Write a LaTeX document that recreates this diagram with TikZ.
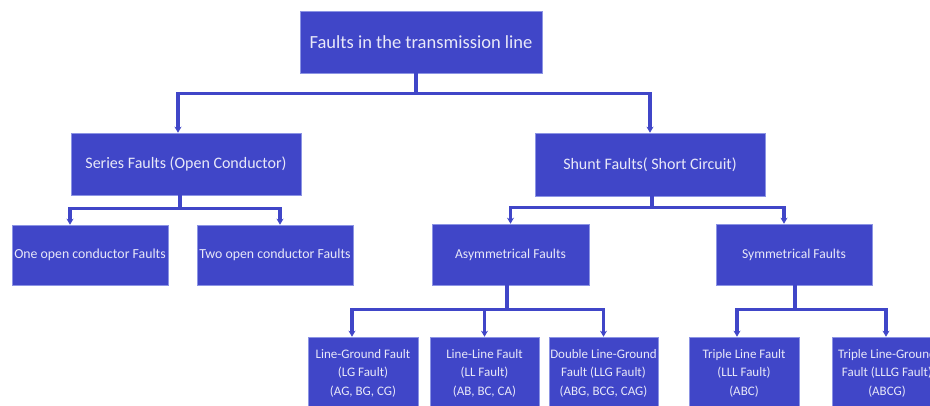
\documentclass[tikz,border=0pt]{standalone}
\usepackage{fontspec}
\setmainfont{Carlito}
\usetikzlibrary{arrows.meta}
\definecolor{faultblue}{RGB}{64,70,200}
\definecolor{faultedge}{RGB}{140,148,228}
\definecolor{faulttext}{RGB}{232,232,248}

\begin{document}
\begin{tikzpicture}[x=1pt, y=-1pt,
    box/.style={draw=faultedge, line width=0.6pt, fill=faultblue, text=faulttext,
      inner sep=0pt, align=center},
    link/.style={draw=faultblue, line width=3.2pt,
      -{Stealth[length=6pt,width=7pt]}}]
    \useasboundingbox (0,0) rectangle (930,405);

    % nodes
    \node[box, minimum width=242pt, minimum height=62pt, font=\fontsize{18.5}{22}\selectfont]
      (root) at (421,42) {Faults in the transmission line};
    \node[box, minimum width=230pt, minimum height=62pt, font=\fontsize{16}{19}\selectfont]
      (series) at (186,164) {Series Faults (Open Conductor)};
    \node[box, minimum width=230pt, minimum height=63pt, font=\fontsize{16}{19}\selectfont]
      (shunt) at (650,164.5) {Shunt Faults( Short Circuit)};
    \node[box, minimum width=156pt, minimum height=60pt, font=\fontsize{13.8}{16}\selectfont]
      (one) at (90,255) {One open conductor Faults};
    \node[box, minimum width=156pt, minimum height=60pt, font=\fontsize{13.8}{16}\selectfont]
      (two) at (275,255) {Two open conductor Faults};
    \node[box, minimum width=157pt, minimum height=61pt, font=\fontsize{13.6}{16}\selectfont]
      (asym) at (510.5,254.5) {Asymmetrical Faults};
    \node[box, minimum width=156pt, minimum height=61pt, font=\fontsize{13.6}{16}\selectfont]
      (sym) at (794,254.5) {Symmetrical Faults};
    \node[box, minimum width=110pt, minimum height=72pt, font=\fontsize{13}{18.5}\selectfont]
      (lg) at (363,373) {Line-Ground Fault\\(LG Fault)\\(AG, BG, CG)};
    \node[box, minimum width=109pt, minimum height=72pt, font=\fontsize{13}{18.5}\selectfont]
      (ll) at (484.5,373) {Line-Line Fault\\(LL Fault)\\(AB, BC, CA)};
    \node[box, minimum width=109pt, minimum height=72pt, font=\fontsize{13}{18.5}\selectfont]
      (llg) at (603.5,373) {Double Line-Ground\\Fault (LLG Fault)\\(ABG, BCG, CAG)};
    \node[box, minimum width=110pt, minimum height=72pt, font=\fontsize{13}{18.5}\selectfont]
      (lll) at (744,373) {Triple Line Fault\\(LLL Fault)\\(ABC)};
    \node[box, minimum width=110pt, minimum height=72pt, font=\fontsize{13}{18.5}\selectfont]
      (lllg) at (887,373) {Triple Line-Ground\\Fault (LLLG Fault)\\(ABCG)};

    % connectors
    \draw[link] ([xshift=-5pt]root.south) -- ++(0,20) -| ([xshift=-8pt]series.north);
    \draw[link] ([xshift=-5pt]root.south) -- ++(0,20) -| (shunt.north);
    \draw[link] ([xshift=-6pt]series.south) -- ++(0,13) -| ([xshift=-20pt]one.north);
    \draw[link] ([xshift=-6pt]series.south) -- ++(0,13) -| ([xshift=5pt]two.north);
    \draw[link] ([xshift=2pt]shunt.south) -- ++(0,11) -| (asym.north);
    \draw[link] ([xshift=2pt]shunt.south) -- ++(0,11) -| ([xshift=-10pt]sym.north);
    \draw[link] ([xshift=-3.5pt]asym.south) -- ++(0,24) -| ([xshift=-11pt]lg.north);
    \draw[link] ([xshift=-3.5pt]asym.south) -- ++(0,24) -| (ll.north);
    \draw[link] ([xshift=-3.5pt]asym.south) -- ++(0,24) -| (llg.north);
    \draw[link] ([xshift=1pt]sym.south) -- ++(0,24) -| ([xshift=-7pt]lll.north);
    \draw[link] ([xshift=1pt]sym.south) -- ++(0,24) -| ([xshift=-1pt]lllg.north);
\end{tikzpicture}
\end{document}
